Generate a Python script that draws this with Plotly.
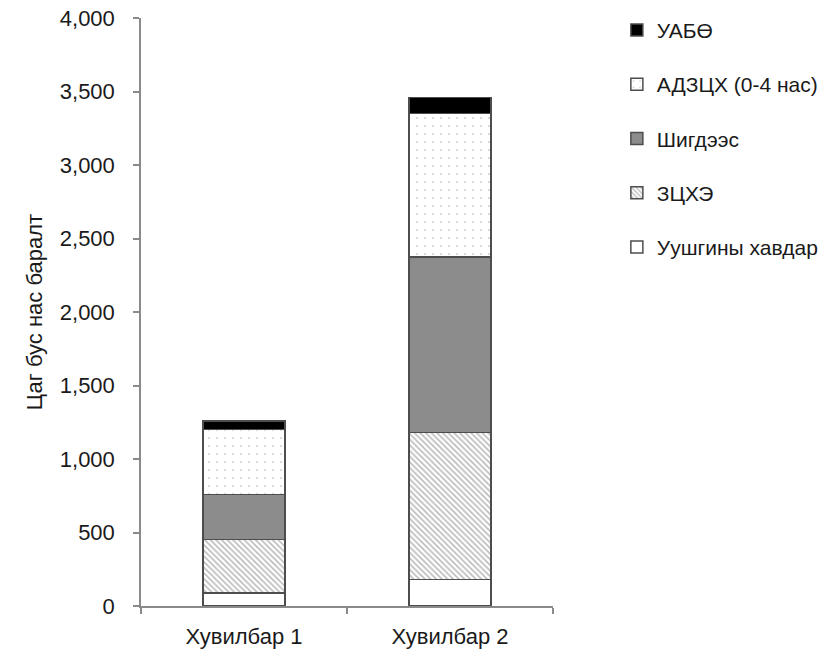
import plotly.graph_objects as go

# Scenario categories
scenarios = ["Хувилбар 1", "Хувилбар 2"]

# Premature deaths by cause (stacked bottom to top)
lung_cancer = [90, 181]        # Уушгины хавдар
copd = [364, 1001]             # ЗЦХЭ
stroke = [303, 1192]           # Шигдээс
child_ari = [445, 977]         # АДЗЦХ (0-4 нас)
ihd = [56, 109]                # УАБӨ

series_names = ["Уушгины хавдар", "ЗЦХЭ", "Шигдээс", "АДЗЦХ (0-4 нас)", "УАБӨ"]
series_values = [lung_cancer, copd, stroke, child_ari, ihd]

FONT = "Liberation Sans, Arial, sans-serif"
OUTLINE = dict(color="#4d4d4d", width=1.5)

styles = [
    dict(color="white", line=OUTLINE),
    dict(color="white", line=OUTLINE,
         pattern=dict(shape="\\", fgcolor="#777777", bgcolor="white", size=4, solidity=0.4)),
    dict(color="#8c8c8c", line=OUTLINE),
    dict(color="white", line=OUTLINE,
         pattern=dict(shape=".", fgcolor="#999999", bgcolor="white", size=8, solidity=0.05)),
    dict(color="black", line=OUTLINE),
]

fig = go.Figure()
for i, (name, vals, mk) in enumerate(zip(series_names, series_values, styles)):
    fig.add_trace(go.Bar(
        x=scenarios, y=vals, name=name, marker=mk, width=0.4,
        legendgroup=name, legendrank=100 - i,
    ))

fig.update_layout(
    width=835, height=650,
    barmode="stack",
    plot_bgcolor="white", paper_bgcolor="white",
    margin=dict(l=141, r=282, t=18, b=44, autoexpand=False),
    font=dict(family=FONT, size=22, color="#1a1a1a"),
    showlegend=True,
    legend=dict(
        x=1.155, xanchor="left", y=1.014, yanchor="top",
        font=dict(family=FONT, size=21, color="#1a1a1a"),
        tracegroupgap=24, itemwidth=30,
        bgcolor="rgba(0,0,0,0)",
    ),
    xaxis=dict(
        type="category", range=[-0.5, 1.5], automargin=False,
        showline=True, linecolor="#8a8a8a", linewidth=1.5,
        ticks="outside", tickson="boundaries", ticklen=6, tickcolor="#8a8a8a", tickwidth=1.5,
        tickfont=dict(family=FONT, size=22, color="#1a1a1a"),
        showgrid=False, zeroline=False, ticklabelstandoff=10,
    ),
    yaxis=dict(
        range=[0, 4000], tickmode="array", automargin=False,
        tickvals=list(range(0, 4001, 500)),
        tickformat=",d",
        showline=True, linecolor="#8a8a8a", linewidth=1.5,
        ticks="outside", ticklen=6, tickcolor="#8a8a8a", tickwidth=1.5,
        tickfont=dict(family=FONT, size=22, color="#1a1a1a"),
        showgrid=False, zeroline=False, ticklabelstandoff=14,
        title=dict(text="Цаг бус нас баралт", standoff=11,
                   font=dict(family=FONT, size=22, color="#1a1a1a")),
    ),
)

fig.write_html("out.html")
